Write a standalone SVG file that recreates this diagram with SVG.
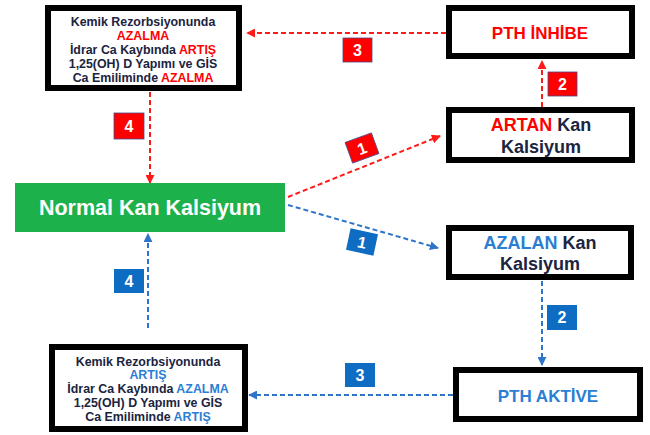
<svg xmlns="http://www.w3.org/2000/svg" width="650" height="435" viewBox="0 0 650 435">
<style>
.box{fill:#fff;stroke:#000;stroke-width:6}
.t{font-family:"Liberation Sans",Arial,sans-serif;font-weight:bold;text-anchor:middle}
.s{font-size:12.4px;fill:#1b2440}
.k{fill:#1b2440}
.r{fill:#ff0000}
.b{fill:#2a7ed3}
.rl{stroke:#ff1a1a;stroke-width:2;stroke-dasharray:5 3;fill:none}
.bl{stroke:#2e74c8;stroke-width:2;stroke-dasharray:5 3;fill:none}
.lr{fill:#ff0000;stroke:#4a4a8a;stroke-width:0.8}
.lb{fill:#0e6cc2}
.n{font-family:"Liberation Sans",Arial,sans-serif;font-weight:bold;font-size:16px;fill:#fff;text-anchor:middle}
</style>
<defs>
<marker id="ar" viewBox="0 0 10 10" refX="9" refY="5" markerWidth="4.5" markerHeight="4.5" orient="auto"><path d="M0,0 L10,5 L0,10 z" fill="#ff1a1a"/></marker>
<marker id="ab" viewBox="0 0 10 10" refX="9" refY="5" markerWidth="4.5" markerHeight="4.5" orient="auto"><path d="M0,0 L10,5 L0,10 z" fill="#2e74c8"/></marker>
</defs>
<g id="connectors">
<line class="rl" x1="446" y1="33" x2="247" y2="33" marker-end="url(#ar)"/>
<line class="rl" x1="542" y1="107" x2="542" y2="61" marker-end="url(#ar)"/>
<line class="rl" x1="150" y1="92" x2="150" y2="183" marker-end="url(#ar)"/>
<line class="rl" x1="288" y1="197" x2="440" y2="136" marker-end="url(#ar)"/>
<line class="bl" x1="288" y1="205" x2="438" y2="248" marker-end="url(#ab)"/>
<line class="bl" x1="542" y1="281" x2="542" y2="365" marker-end="url(#ab)"/>
<line class="bl" x1="453" y1="395" x2="249" y2="395" marker-end="url(#ab)"/>
<line class="bl" x1="148" y1="328" x2="148" y2="234" marker-end="url(#ab)"/>
<g id="label-r3"><rect class="lr" x="343" y="38" width="29" height="24"/><text class="n" x="357.5" y="56">3</text></g>
<g id="label-r2"><rect class="lr" x="548" y="72" width="29" height="24"/><text class="n" x="562.5" y="90">2</text></g>
<g id="label-r4"><rect class="lr" x="114" y="113" width="30" height="26"/><text class="n" x="129" y="132">4</text></g>
<g id="label-r1" transform="translate(362,148) rotate(-20)"><rect class="lr" x="-14" y="-11" width="28" height="22"/><text class="n" x="0" y="6">1</text></g>
<g id="label-b1" transform="translate(362,242) rotate(12)"><rect class="lb" x="-14" y="-11" width="28" height="22"/><text class="n" x="0" y="6">1</text></g>
<g id="label-b2"><rect class="lb" x="547" y="305" width="30" height="25"/><text class="n" x="562" y="323">2</text></g>
<g id="label-b3"><rect class="lb" x="345" y="363" width="30" height="24"/><text class="n" x="360" y="381">3</text></g>
<g id="label-b4"><rect class="lb" x="114" y="269" width="30" height="24"/><text class="n" x="129" y="287">4</text></g>
</g>
<g id="node-top-left">
<rect class="box" x="48" y="8" width="191" height="80"/>
<text class="t s" x="143" y="26">Kemik Rezorbsiyonunda</text>
<text class="t s r" x="143" y="40">AZALMA</text>
<text class="t s" x="143" y="54">İdrar Ca Kaybında <tspan class="r">ARTIŞ</tspan></text>
<text class="t s" x="143" y="68">1,25(OH) D Yapımı ve GİS</text>
<text class="t s" x="143" y="82">Ca Emiliminde <tspan class="r">AZALMA</tspan></text>
</g>
<g id="node-pth-inhibe">
<rect class="box" x="449" y="8" width="183" height="48"/>
<text class="t r" x="540" y="39" font-size="17">PTH İNHİBE</text>
</g>
<g id="node-artan">
<rect class="box" x="449" y="110" width="183" height="50"/>
<text class="t k" x="541" y="131" font-size="18"><tspan class="r">ARTAN</tspan> Kan</text>
<text class="t k" x="541" y="153" font-size="18">Kalsiyum</text>
</g>
<g id="node-normal">
<rect x="15" y="183" width="270" height="49" fill="#1db14b"/>
<text class="t" x="150" y="215" font-size="21.5" fill="#fff">Normal Kan Kalsiyum</text>
</g>
<g id="node-azalan">
<rect class="box" x="449" y="228" width="182" height="49"/>
<text class="t k" x="540" y="249" font-size="18"><tspan class="b">AZALAN</tspan> Kan</text>
<text class="t k" x="540" y="270" font-size="18">Kalsiyum</text>
</g>
<g id="node-pth-aktive">
<rect class="box" x="456" y="370" width="184" height="49"/>
<text class="t b" x="548" y="402" font-size="17">PTH AKTİVE</text>
</g>
<g id="node-bottom-left">
<rect class="box" x="52" y="347" width="193" height="82"/>
<text class="t s" x="148" y="366">Kemik Rezorbsiyonunda</text>
<text class="t s b" x="148" y="379">ARTIŞ</text>
<text class="t s" x="148" y="393">İdrar Ca Kaybında <tspan class="b">AZALMA</tspan></text>
<text class="t s" x="148" y="407">1,25(OH) D Yapımı ve GİS</text>
<text class="t s" x="148" y="421">Ca Emiliminde <tspan class="b">ARTIŞ</tspan></text>
</g>
</svg>
